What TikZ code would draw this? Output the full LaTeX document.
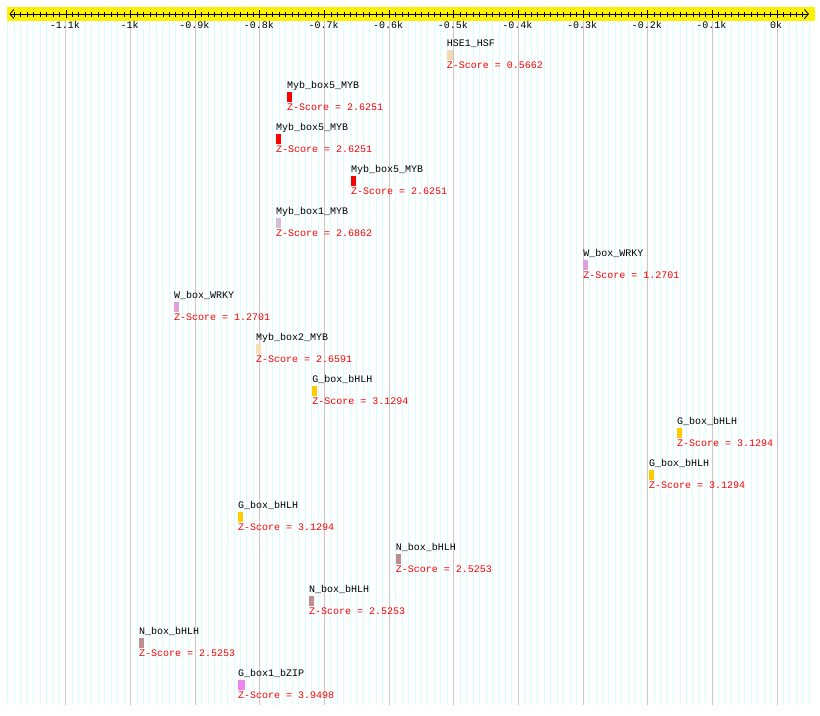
\documentclass[tikz,border=0pt]{standalone}
\usepackage{fontspec}
\setmonofont{Liberation Mono}
\usepackage{xcolor}
\colorlet{colBand}{yellow}
\definecolor{colGridMinor}{RGB}{215,255,255}
\definecolor{colGridMajor}{RGB}{200,200,200}
\colorlet{colZ}{red}
\definecolor{colHSF}{RGB}{240,218,180}
\definecolor{colMYB}{RGB}{255,0,0}
\definecolor{colMYBa}{RGB}{216,191,216}
\definecolor{colMYBb}{RGB}{250,222,180}
\definecolor{colWRKY}{RGB}{221,160,221}
\definecolor{colbHLH}{RGB}{255,204,0}
\definecolor{colNbox}{RGB}{188,143,143}
\definecolor{colbZIP}{RGB}{238,130,238}
\usepackage{tikz}
\usetikzlibrary{arrows.meta}
\tikzset{
	featlbl/.style={anchor=base west, inner sep=0pt, font=\ttfamily\fontsize{10}{12}\selectfont},
	zlbl/.style={featlbl, text=colZ},
	ticklbl/.style={anchor=base, inner sep=0pt, font=\ttfamily\fontsize{10}{12}\selectfont},
	featbox/.style={anchor=north west, inner sep=0pt, minimum height=10pt, draw=none},
}

\begin{document}
\begin{tikzpicture}[
		x=0.6464pt, y=-1pt,
		>={Straight Barb[length=4pt, width=9pt]}
	]
		\useasboundingbox (-1202.04,0) rectangle (66.52,715);

		% grid, one line every 10 bp, darker every 100 bp
		\foreach \g in {-1190,-1180,...,50}
			\draw[colGridMinor, line width=1pt] (\g,20.5) -- (\g,705);
		\foreach \g in {-1100,-1000,...,0}
			\draw[colGridMajor, line width=1pt] (\g,20.5) -- (\g,705);

		% position axis
		\fill[colBand] (-1191,7) rectangle (58.8,20.7);
		\coordinate (axL) at (-1187.5,14);
		\coordinate (axR) at (49.5,14);
		\draw[<->, line width=0.8pt] (axL) -- (axR);
		\foreach \t in {-1180,-1170,...,40}
			\draw[line width=0.8pt] (\t,11.8) -- (\t,16.8);
		\foreach \t/\lbl in {-1100/-1.1k, -1000/-1k, -900/-0.9k, -800/-0.8k,
			-700/-0.7k, -600/-0.6k, -500/-0.5k, -400/-0.4k, -300/-0.3k,
			-200/-0.2k, -100/-0.1k, 0/0k}
		{
			\draw[line width=0.8pt] (\t,10) -- (\t,18.3);
			\node[ticklbl] (tk\t) at (\t-1.5,28.5) {\lbl};
		}

		% motif hits, one row each
		\foreach \xb/\w/\col/\name/\z [count=\i from 0] in {%
			-511/10/colHSF/HSE1\_HSF/0.5662,
			-758/8/colMYB/Myb\_box5\_MYB/2.6251,
			-775/8/colMYB/Myb\_box5\_MYB/2.6251,
			-659/8/colMYB/Myb\_box5\_MYB/2.6251,
			-775/8/colMYBa/Myb\_box1\_MYB/2.6862,
			-300/7/colWRKY/W\_box\_WRKY/1.2701,
			-933/7/colWRKY/W\_box\_WRKY/1.2701,
			-806/7/colMYBb/Myb\_box2\_MYB/2.6591,
			-719/7/colbHLH/G\_box\_bHLH/3.1294,
			-155/7/colbHLH/G\_box\_bHLH/3.1294,
			-198/7/colbHLH/G\_box\_bHLH/3.1294,
			-834/7/colbHLH/G\_box\_bHLH/3.1294,
			-590/8/colNbox/N\_box\_bHLH/2.5253,
			-724/8/colNbox/N\_box\_bHLH/2.5253,
			-987/8/colNbox/N\_box\_bHLH/2.5253,
			-834/10/colbZIP/G\_box1\_bZIP/3.9498}
		{
			\begin{scope}[yshift={-42*\i}]
				\node[featbox, fill=\col, minimum width={\w*0.6464pt}] (box\i) at (\xb,49.3) {};
				\node[featlbl] (lbl\i) at (\xb,46) {\name};
				\node[zlbl] (z\i) at (\xb,68) {Z-Score = \z};
			\end{scope}
		}
	\end{tikzpicture}
\end{document}
